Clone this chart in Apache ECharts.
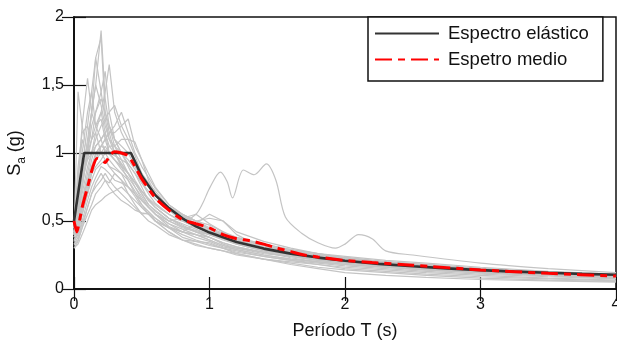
<!DOCTYPE html>
<html>
<head>
<meta charset="utf-8">
<script src="https://cdn.jsdelivr.net/npm/echarts@6/dist/echarts.min.js"></script>
<style>
html,body{margin:0;padding:0;background:#fff;}
#c{width:617px;height:340px;}
</style>
</head>
<body>
<div id="c"></div>
<script>
// Common period grid for the individual record spectra (s)
const periods = [0, 0.03, 0.06, 0.1, 0.13, 0.16, 0.2, 0.23, 0.26, 0.3, 0.35, 0.4, 0.45, 0.5, 0.55, 0.6, 0.7, 0.8, 0.9, 1.0, 1.1, 1.2, 1.4, 1.6, 1.8, 2.0, 2.3, 2.6, 3.0, 3.5, 4.0];

// Individual record spectra Sa (g)
const rec01 = [0.42,0.55,0.8,1.1,1.3,1.5,1.9,1.4,1.2,1.05,0.95,0.85,0.78,0.7,0.62,0.58,0.5,0.45,0.42,0.38,0.34,0.31,0.27,0.23,0.2,0.18,0.16,0.14,0.12,0.1,0.085];
const rec02 = [0.45,0.6,0.9,1.2,1.45,1.7,1.85,1.3,1.15,1.0,0.9,0.8,0.7,0.62,0.57,0.52,0.45,0.42,0.4,0.36,0.32,0.3,0.26,0.24,0.21,0.19,0.17,0.15,0.13,0.11,0.09];
const rec03 = [0.4,1.45,1.2,1.0,1.1,1.2,1.3,1.15,1.0,0.95,0.9,0.85,0.75,0.68,0.6,0.55,0.48,0.42,0.38,0.35,0.31,0.29,0.25,0.22,0.2,0.18,0.16,0.14,0.12,0.1,0.085];
const rec04 = [0.38,0.5,0.75,1.0,1.3,1.7,1.45,1.25,1.1,1.05,1.0,0.92,0.85,0.75,0.65,0.6,0.52,0.48,0.44,0.4,0.36,0.33,0.28,0.25,0.22,0.2,0.18,0.16,0.13,0.11,0.09];
const rec05 = [0.5,0.6,0.8,0.95,1.1,1.3,1.45,1.6,1.3,1.1,1.0,0.95,0.88,0.78,0.7,0.63,0.55,0.5,0.46,0.42,0.38,0.34,0.3,0.26,0.23,0.21,0.19,0.17,0.14,0.12,0.1];
const rec06 = [0.32,0.36,0.45,0.55,0.62,0.7,0.75,0.8,0.78,0.85,0.8,0.7,0.62,0.55,0.5,0.47,0.4,0.36,0.33,0.3,0.28,0.26,0.22,0.19,0.16,0.14,0.12,0.1,0.08,0.065,0.055];
const rec07 = [0.35,0.42,0.55,0.7,0.85,0.95,1.05,1.1,1.15,1.15,1.2,1.25,1.05,0.95,0.85,0.75,0.62,0.55,0.5,0.47,0.42,0.38,0.32,0.28,0.25,0.22,0.2,0.18,0.15,0.12,0.1];
const rec08 = [0.45,0.7,1.0,1.3,1.45,1.2,1.1,1.0,0.95,0.9,0.85,0.75,0.68,0.6,0.55,0.5,0.45,0.38,0.35,0.32,0.3,0.28,0.24,0.21,0.19,0.17,0.15,0.13,0.11,0.09,0.075];
const rec09 = [0.4,0.45,0.6,0.8,0.95,1.05,1.1,1.15,1.2,1.1,1.05,1.0,0.9,0.82,0.75,0.7,0.6,0.53,0.5,0.52,0.5,0.42,0.35,0.3,0.26,0.23,0.2,0.17,0.15,0.12,0.1];
const rec10 = [0.3,0.35,0.45,0.6,0.7,0.75,0.8,0.85,0.8,0.75,0.7,0.65,0.6,0.55,0.56,0.5,0.42,0.36,0.32,0.3,0.28,0.25,0.22,0.2,0.18,0.16,0.14,0.12,0.1,0.08,0.065];
const rec11 = [0.48,0.55,0.7,0.9,1.0,1.1,1.2,1.25,1.3,1.35,1.2,1.1,0.98,0.85,0.78,0.72,0.6,0.54,0.48,0.44,0.4,0.37,0.32,0.28,0.24,0.22,0.19,0.17,0.14,0.12,0.1];
const rec12 = [0.4,0.8,1.2,1.55,1.3,1.2,1.25,1.1,1.0,0.95,0.88,0.82,0.75,0.66,0.6,0.55,0.46,0.42,0.4,0.38,0.33,0.3,0.27,0.24,0.21,0.19,0.17,0.15,0.12,0.1,0.08];
const rec13 = [0.42,0.5,0.65,0.8,0.9,0.95,1.0,1.05,1.0,0.98,0.95,0.92,0.85,0.78,0.72,0.66,0.58,0.52,0.47,0.43,0.4,0.37,0.33,0.29,0.26,0.23,0.2,0.18,0.15,0.12,0.1];
const rec14 = [0.5,0.58,0.75,1.0,1.2,1.3,1.4,1.3,1.2,1.1,1.0,0.9,0.8,0.72,0.65,0.6,0.52,0.47,0.42,0.38,0.34,0.31,0.27,0.24,0.22,0.2,0.18,0.16,0.13,0.11,0.09];
const rec15 = [0.35,0.4,0.5,0.65,0.75,0.82,0.9,0.88,0.85,0.8,0.78,0.75,0.7,0.62,0.55,0.5,0.45,0.42,0.48,0.55,0.5,0.4,0.3,0.26,0.22,0.2,0.17,0.15,0.12,0.1,0.08];
const rec16 = [0.45,0.9,1.15,1.2,1.1,1.15,1.0,0.95,0.9,0.88,0.85,0.8,0.72,0.65,0.6,0.55,0.48,0.44,0.4,0.36,0.32,0.29,0.25,0.22,0.2,0.18,0.16,0.14,0.12,0.1,0.08];
const rec17 = [0.38,0.45,0.55,0.72,0.85,0.9,0.95,1.0,1.05,1.05,1.1,1.1,1.08,0.95,0.8,0.7,0.58,0.5,0.45,0.42,0.4,0.36,0.3,0.27,0.24,0.22,0.2,0.17,0.14,0.12,0.1];
const rec19 = [0.3,0.33,0.4,0.5,0.58,0.62,0.65,0.68,0.7,0.72,0.75,0.7,0.65,0.6,0.55,0.5,0.42,0.36,0.35,0.34,0.3,0.26,0.22,0.18,0.15,0.12,0.1,0.085,0.07,0.06,0.05];
const rec20 = [0.45,0.5,0.65,0.85,1.0,1.15,1.3,1.45,1.65,1.3,1.15,1.05,0.95,0.85,0.75,0.7,0.6,0.55,0.5,0.45,0.41,0.38,0.33,0.29,0.26,0.24,0.21,0.19,0.16,0.13,0.11];
const rec21 = [0.42,0.55,0.75,1.05,1.3,1.5,1.35,1.2,1.1,1.0,0.92,0.85,0.78,0.7,0.62,0.57,0.5,0.46,0.43,0.4,0.37,0.33,0.28,0.25,0.22,0.2,0.18,0.16,0.13,0.11,0.09];
const rec22 = [0.36,0.42,0.55,0.7,0.8,0.88,0.92,0.95,0.9,0.85,0.8,0.75,0.7,0.65,0.6,0.55,0.5,0.52,0.55,0.48,0.42,0.36,0.3,0.27,0.25,0.23,0.2,0.18,0.15,0.12,0.1];
const rec23 = [0.4,0.8,1.1,0.95,1.0,1.05,1.1,1.15,1.05,1.0,0.92,0.85,0.78,0.72,0.66,0.6,0.52,0.46,0.42,0.4,0.37,0.34,0.29,0.26,0.23,0.21,0.19,0.16,0.13,0.11,0.09];
const rec24 = [0.42,0.48,0.62,0.78,0.9,1.0,1.05,1.1,1.15,1.2,1.3,1.15,1.0,0.9,0.82,0.74,0.62,0.55,0.5,0.44,0.4,0.36,0.31,0.28,0.25,0.22,0.19,0.17,0.14,0.12,0.1];
const rec25 = [0.33,0.38,0.48,0.6,0.7,0.78,0.85,0.8,0.75,0.7,0.65,0.62,0.58,0.56,0.55,0.52,0.45,0.4,0.36,0.33,0.3,0.27,0.24,0.21,0.18,0.15,0.13,0.11,0.09,0.075,0.06];

// Outlier record with its own period grid
const outlierT  = [0,0.05,0.1,0.15,0.2,0.25,0.3,0.4,0.5,0.6,0.7,0.8,0.9,0.95,1.0,1.08,1.13,1.17,1.25,1.33,1.42,1.49,1.56,1.68,1.8,1.93,2.0,2.1,2.2,2.3,2.5,3.0,3.5,4.0];
const outlierSa = [0.4,0.55,0.75,0.95,1.05,1.0,0.95,0.85,0.72,0.62,0.55,0.5,0.55,0.63,0.74,0.86,0.79,0.67,0.875,0.84,0.92,0.8,0.53,0.41,0.34,0.3,0.33,0.4,0.37,0.28,0.25,0.19,0.15,0.12];

// Elastic design spectrum
const elasticT  = [0,0.075,0.42,0.5,0.6,0.7,0.8,0.9,1.0,1.2,1.4,1.6,1.8,2.0,2.25,2.5,2.75,3.0,3.25,3.5,3.75,4.0];
const elasticSa = [0.5,1.0,1.0,0.83,0.69,0.595,0.52,0.46,0.415,0.345,0.297,0.26,0.231,0.208,0.185,0.167,0.152,0.139,0.128,0.119,0.111,0.105];

// Mean spectrum
const meanT  = [0,0.02,0.06,0.1,0.14,0.17,0.2,0.23,0.27,0.3,0.35,0.4,0.45,0.5,0.6,0.7,0.8,0.9,1.0,1.1,1.2,1.3,1.4,1.5,1.6,1.7,1.8,2.0,2.2,2.5,3.0,3.5,4.0];
const meanSa = [0.5,0.42,0.6,0.75,0.9,0.96,0.95,0.93,0.99,1.01,1.0,0.98,0.9,0.81,0.67,0.58,0.51,0.48,0.45,0.4,0.37,0.355,0.33,0.3,0.275,0.25,0.235,0.21,0.195,0.175,0.14,0.115,0.095];

const yTicks = ['0','0,5','1','1,5','2'];
const legendNames = ['Espectro elástico', 'Espetro medio'];

const records = [rec01,rec02,rec03,rec04,rec05,rec06,rec07,rec08,rec09,rec10,rec11,rec12,rec13,rec14,rec15,rec16,rec17,rec19,rec20,rec21,rec22,rec23,rec24,rec25];

const FONT = "'Liberation Sans', Arial, Helvetica, sans-serif";
const pair = (t, v) => t.map((x, i) => [x, v[i]]);

const series = [];
records.forEach((r, k) => {
  series.push({
    name: 'rec' + k, type: 'line', data: pair(periods, r),
    showSymbol: false, symbol: 'none', silent: true,
    lineStyle: { color: '#c4c4c4', width: 1.2 }, z: 1
  });
});
series.push({
  name: 'recOut', type: 'line', data: pair(outlierT, outlierSa), smooth: 0.3,
  showSymbol: false, symbol: 'none', silent: true,
  lineStyle: { color: '#c4c4c4', width: 1.2 }, z: 1
});
series.push({
  name: legendNames[0], type: 'line', data: pair(elasticT, elasticSa), smooth: false,
  showSymbol: false, symbol: 'none',
  lineStyle: { color: '#333333', width: 2.6 }, itemStyle: { color: '#333333' }, z: 3
});
series.push({
  name: legendNames[1], type: 'line', data: pair(meanT, meanSa), smooth: 0.2,
  showSymbol: false, symbol: 'none',
  lineStyle: { color: '#ff0000', width: 3, type: [17, 6, 7, 6] }, itemStyle: { color: '#ff0000' }, z: 4
});

const axisBase = {
  axisLine: { show: true, lineStyle: { color: '#111', width: 1.5 } },
  axisTick: { show: true, inside: true, length: 12, lineStyle: { color: '#111', width: 1.2 } },
  splitLine: { show: false }
};

const chart = echarts.init(document.getElementById('c'), null, { renderer: 'canvas' });
chart.setOption({
  animation: false,
  backgroundColor: '#ffffff',
  textStyle: { fontFamily: FONT },
  grid: { left: 74, right: 1, top: 17, bottom: 51, show: true, borderColor: '#111', borderWidth: 1.5,
          containLabel: false, outerBoundsMode: 'none' },
  legend: {
    data: legendNames.map(n => ({ name: n, itemStyle: { opacity: 0 } })),
    orient: 'vertical', left: 368, top: 17,
    itemWidth: 64, itemHeight: 18, itemGap: 7,
    padding: [7, 14, 12, 6],
    borderColor: '#111', borderWidth: 1.5, backgroundColor: '#fff',
    itemStyle: { opacity: 0 },
    textStyle: { fontFamily: FONT, fontSize: 18.5, color: '#111', padding: [0, 0, 0, 4] }
  },
  xAxis: [Object.assign({
    type: 'value', min: 0, max: 4, interval: 1,
    name: 'Período T (s)', nameLocation: 'middle', nameGap: 33,
    nameTextStyle: { fontFamily: FONT, fontSize: 18, color: '#111' },
    axisLabel: { fontFamily: FONT, fontSize: 16, color: '#111', margin: 8 }
  }, axisBase), Object.assign({
    type: 'value', min: 0, max: 4, interval: 1, position: 'top',
    axisLabel: { show: false }
  }, axisBase)],
  yAxis: [Object.assign({
    type: 'value', min: 0, max: 2, interval: 0.5,
    name: '{s|S}{a|a}{s| (g)}', nameLocation: 'middle', nameGap: 46, nameRotate: 90,
    nameTextStyle: {
      fontFamily: FONT, color: '#111',
      rich: {
        s: { fontFamily: FONT, fontSize: 18, color: '#111', lineHeight: 22, verticalAlign: 'top' },
        a: { fontFamily: FONT, fontSize: 12, color: '#111', lineHeight: 22, verticalAlign: 'bottom', padding: [9, 0, 0, 0] }
      }
    },
    axisLabel: { fontFamily: FONT, fontSize: 16, color: '#111', margin: 10,
      formatter: (v) => yTicks[Math.round(v / 0.5)] }
  }, axisBase), Object.assign({
    type: 'value', min: 0, max: 2, interval: 0.5, position: 'right',
    axisLabel: { show: false }
  }, axisBase)],
  series: series
});
</script>
</body>
</html>
